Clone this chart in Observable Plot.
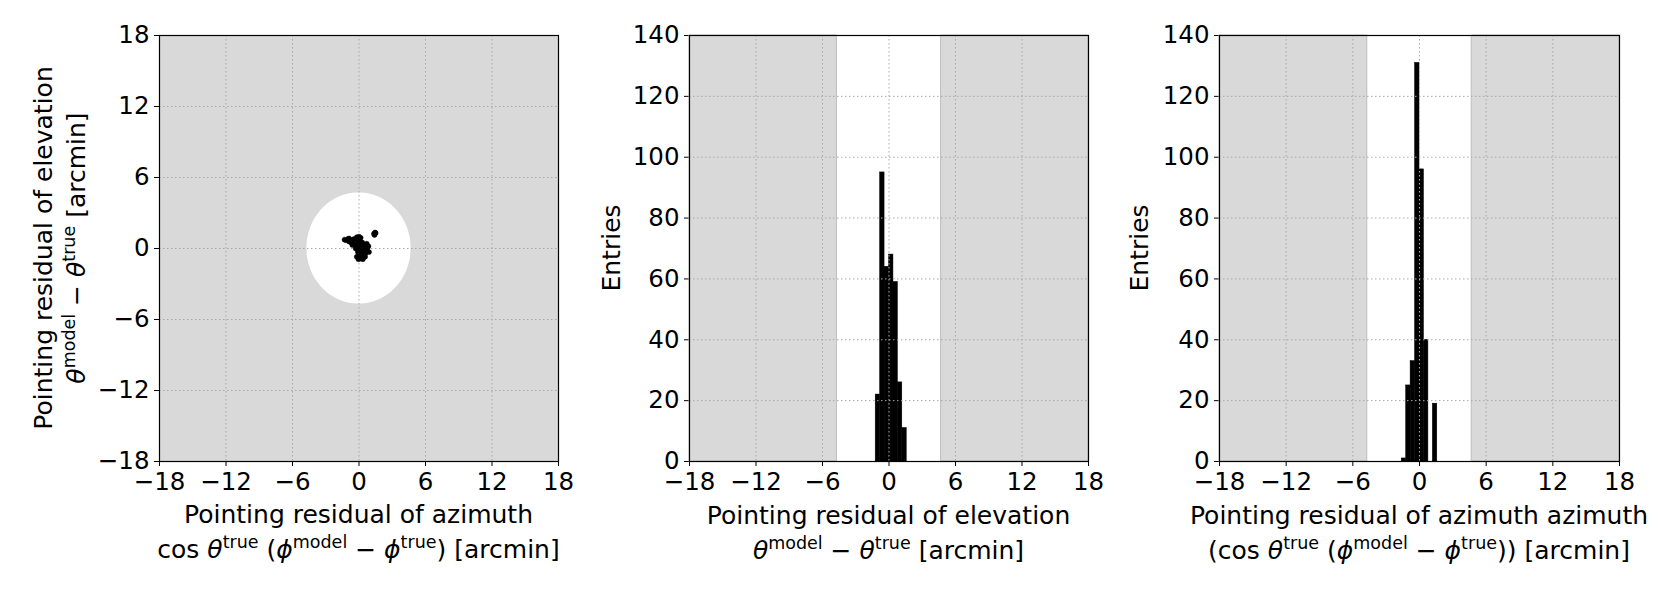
<!DOCTYPE html>
<html><head><meta charset="utf-8">
<script src="https://cdn.jsdelivr.net/npm/d3@7"></script>
<script src="https://cdn.jsdelivr.net/npm/@observablehq/plot@0.6"></script>
<style>
body{margin:0;background:#fff;}
#wrap{position:relative;width:1661px;height:593px;font-family:"DejaVu Sans",sans-serif;}
#wrap svg{position:absolute;top:0;}
</style></head><body><div id="wrap"></div>
<script>
// ---------- data ----------
const axisTicks = [-18, -12, -6, 0, 6, 12, 18];
const entryTicks = [0, 20, 40, 60, 80, 100, 120, 140];
const axisLimit = 18;
const entriesMax = 140;
const coneRadius = 4.7;
const binEdges = [-1.6, -1.2, -0.8, -0.4, 0, 0.4, 0.8, 1.2, 1.6];
const elevationCounts = [0, 22, 95, 64, 68, 59, 26, 11];
const azimuthCounts = [1, 25, 33, 131, 96, 40, 0, 19];
const scatterAz = [-1.3,-1.15,-1.0,-0.9,-0.8,-0.7,-0.6,-0.5,-0.45,-0.35,-0.6,-0.9,
  -0.2,0.0,0.05,-0.1,0.15,
  0.3,0.5,0.7,0.85,0.6,0.9,0.4,0.2,0.75,
  -0.2,0.0,0.1,-0.1,0.2,-0.3,
  -0.1,0.0,0.2,0.4,-0.2,0.1,0.35,0.55,0.6,-0.05,0.25,
  1.35,1.45,1.4,1.5];
const scatterEl = [0.75,0.7,0.8,0.6,0.75,0.5,0.65,0.4,0.8,0.3,0.3,0.85,
  0.95,1.0,0.85,0.7,0.9,
  0.5,0.3,0.4,0.2,-0.1,-0.3,0.0,0.2,0.05,
  0.4,0.3,0.5,0.1,-0.1,0.0,
  -0.3,-0.5,-0.6,-0.5,-0.7,-0.85,-0.9,-0.7,-0.4,-0.9,-0.3,
  1.25,1.35,1.15,1.3];

// ---------- helpers ----------
const FS = 25;
const grayFill = "#d9d9d9";
const gridStyle = {stroke: "#a8a8a8", strokeWidth: 1, strokeDasharray: "1.5,2.5"};
const fmt = d => d < 0 ? `\u2212${-d}` : `${d}`;
const style = {fontSize: "24.5px", fontFamily: "DejaVu Sans", color: "black", background: "transparent"};

function mathLabel(svg, x, y, rot, segs) {
  const t = d3.select(svg).append("text")
    .attr("transform", `translate(${x},${y}) rotate(${rot})`)
    .attr("text-anchor", "middle").attr("font-size", FS).attr("fill", "black")
    .attr("font-family", "DejaVu Sans").style("white-space", "pre");
  let raised = false;
  for (const s of segs) {
    const ts = t.append("tspan").text(s.t);
    if (s.it) ts.attr("font-style", "italic");
    if (s.sup) {
      ts.attr("font-size", FS * 0.7);
      if (!raised) { ts.attr("dy", -0.42 * FS); raised = true; }
    } else if (raised) { ts.attr("dy", 0.42 * FS); raised = false; }
  }
}
const S = t => ({t}), I = t => ({t, it: true}), U = t => ({t, sup: true});
const diffTheta = [I("θ"), U("model"), S(" − "), I("θ"), U("true")];
const azExpr = [S("cos "), I("θ"), U("true"), S(" ("), I("ϕ"), U("model"), S(" − "), I("ϕ"), U("true"), S(")")];

const wrap = document.getElementById("wrap");

// ---------- panel 1: scatter ----------
const points = scatterAz.map((a, i) => ({az: a, el: scatterEl[i]}));
const circlePts = d3.range(0, 401).map(i => {
  const t = Math.PI - Math.PI * i / 400;
  return {x: coneRadius * Math.cos(t), y1: -coneRadius * Math.sin(t), y2: coneRadius * Math.sin(t)};
});
const p1 = Plot.plot({
  width: 590, height: 593, marginLeft: 159, marginRight: 32, marginTop: 35, marginBottom: 132,
  style,
  x: {domain: [-axisLimit, axisLimit], ticks: axisTicks, tickFormat: fmt, tickSize: 5, tickPadding: 6, label: null},
  y: {domain: [-axisLimit, axisLimit], ticks: axisTicks, tickFormat: fmt, tickSize: 5, tickPadding: 5, label: null},
  marks: [
    Plot.frame({fill: grayFill}),
    Plot.areaY(circlePts, {x: "x", y1: "y1", y2: "y2", fill: "white"}),
    Plot.ruleX(axisTicks, gridStyle),
    Plot.ruleY(axisTicks, gridStyle),
    Plot.dot(points, {x: "az", y: "el", r: 2.5, fill: "black", stroke: "black", strokeWidth: 0.5}),
    Plot.frame({stroke: "black", strokeWidth: 1.2})
  ]
});
p1.style.left = "0px";
wrap.appendChild(p1);
mathLabel(p1, 358.5, 523, 0, [S("Pointing residual of azimuth")]);
mathLabel(p1, 358.5, 558, 0, [...azExpr, S(" [arcmin]")]);
mathLabel(p1, 52, 248, -90, [S("Pointing residual of elevation")]);
mathLabel(p1, 85, 248, -90, [...diffTheta, S(" [arcmin]")]);

// ---------- histograms ----------
function hist(counts, left, width, mLeft, mRight) {
  const bins = counts.map((c, i) => ({x1: binEdges[i], x2: binEdges[i + 1], n: c})).filter(d => d.n > 0);
  const spans = [{x1: -axisLimit, x2: -coneRadius}, {x1: coneRadius, x2: axisLimit}];
  const p = Plot.plot({
    width, height: 593, marginLeft: mLeft, marginRight: mRight, marginTop: 35, marginBottom: 132,
    style,
    x: {domain: [-axisLimit, axisLimit], ticks: axisTicks, tickFormat: fmt, tickSize: 5, tickPadding: 6, label: null},
    y: {domain: [0, entriesMax], ticks: entryTicks, tickFormat: fmt, tickSize: 5, tickPadding: 5, label: null},
    marks: [
      Plot.rect(spans, {x1: "x1", x2: "x2", y1: 0, y2: entriesMax, fill: grayFill, stroke: "#bdbdbd", strokeWidth: 1}),
      Plot.rect(bins, {x1: "x1", x2: "x2", y1: 0, y2: "n", fill: "black", stroke: "black", strokeWidth: 0.5}),
      Plot.ruleX(axisTicks, gridStyle),
      Plot.ruleY(entryTicks, gridStyle),
      Plot.frame({stroke: "black", strokeWidth: 1.2})
    ]
  });
  p.style.left = left + "px";
  wrap.appendChild(p);
  return p;
}
const p2 = hist(elevationCounts, 590, 530, 99, 32);
const c2 = 99 + (530 - 99 - 32) / 2;
mathLabel(p2, c2, 524, 0, [S("Pointing residual of elevation")]);
mathLabel(p2, c2, 559, 0, [...diffTheta, S(" [arcmin]")]);
mathLabel(p2, 30, 248, -90, [S("Entries")]);

const p3 = hist(azimuthCounts, 1120, 541, 99, 42);
const c3 = 99 + (541 - 99 - 42) / 2;
mathLabel(p3, c3, 524, 0, [S("Pointing residual of azimuth azimuth")]);
mathLabel(p3, c3, 559, 0, [S("("), ...azExpr, S(") [arcmin]")]);
mathLabel(p3, 28, 248, -90, [S("Entries")]);
</script></body></html>
